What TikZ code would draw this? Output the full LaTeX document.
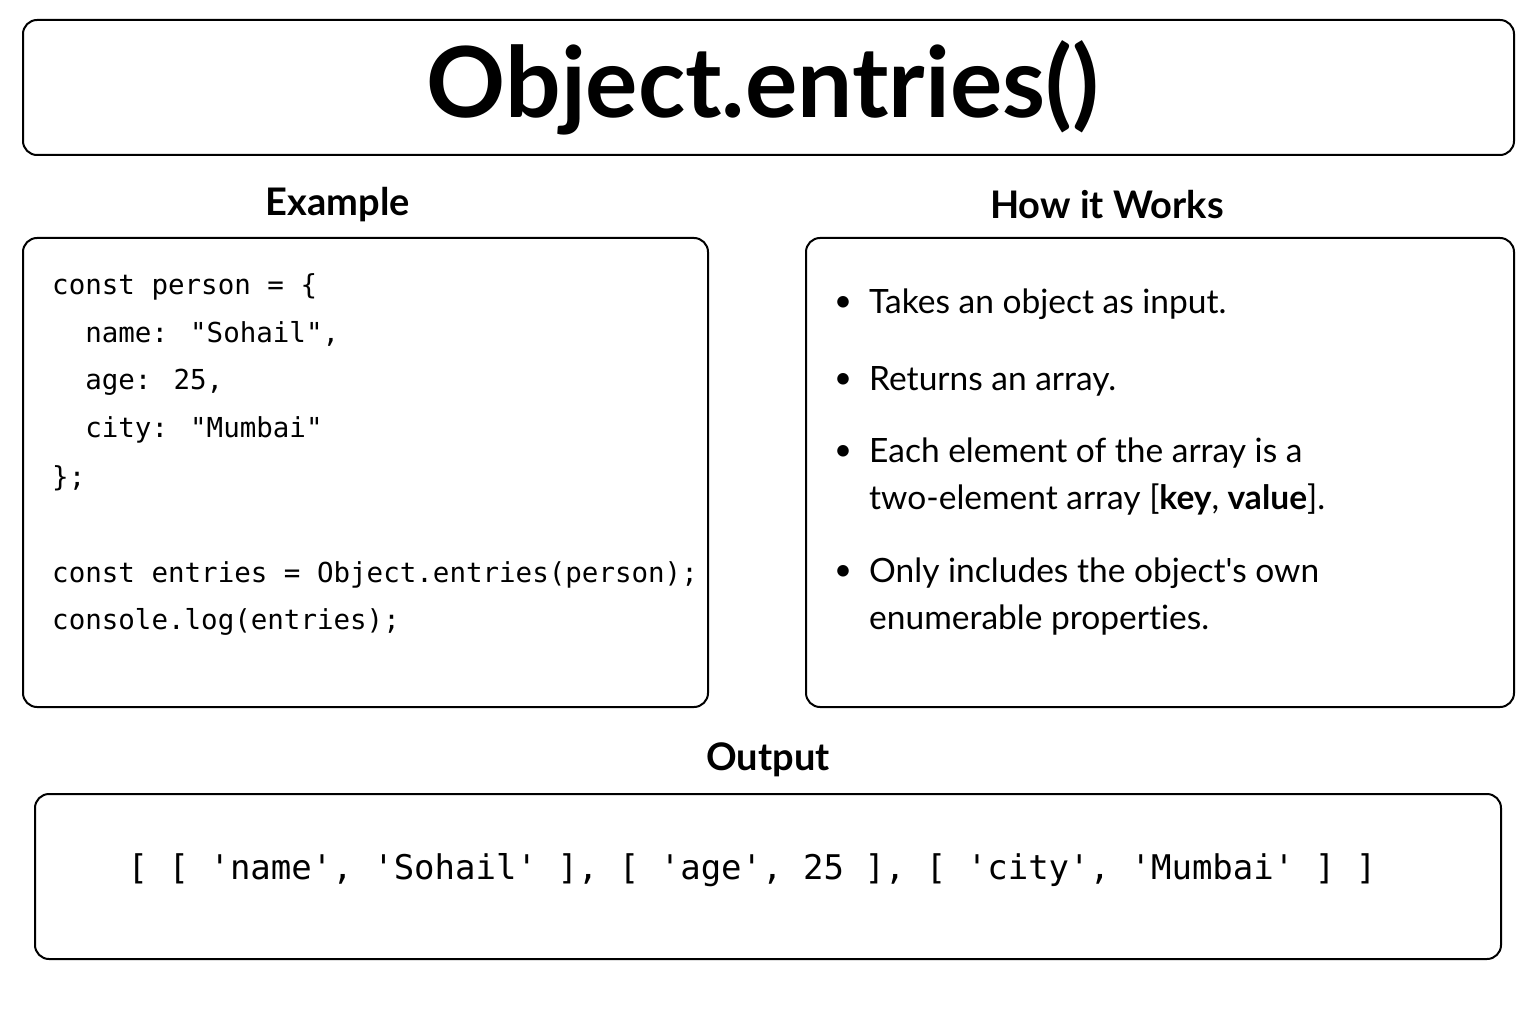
\documentclass[tikz,border=0pt]{standalone}
\usepackage{fontspec}
\setmainfont{Lato}[Ligatures={NoCommon}]
\newfontfamily\codefont{DejaVu Sans Mono}
\usetikzlibrary{positioning}
\begin{document}
\begin{tikzpicture}[x=1pt,y=-1pt,
    panel/.style={draw=black,line width=2pt,rounded corners=14pt},
    heading/.style={font=\fontsize{38}{44}\selectfont\bfseries},
    code/.style={anchor=west,inner sep=0pt,font=\codefont\fontsize{27.5}{32}\selectfont},
    point/.style={anchor=west,inner sep=0pt,font=\fontsize{33.5}{38}\selectfont},
    dot/.style={inner sep=0pt,font=\fontsize{31}{36}\selectfont}]
  \useasboundingbox (0,0) rectangle (1536,1024);
  % title
  \draw[panel] (23,20) rectangle (1514,155);
  \node[font=\fontsize{98}{104}\selectfont\bfseries] (title) at (763,88) {Object.entries()};
  % example
  \node[heading] (exhead) at (338,205) {Example};
  \draw[panel] (23,238) rectangle (708,707);
  \node[code] (c1) at (52,287) {const person = \{};
  \node[code] (c2) at (52,334) {\ \ name: "Sohail",};
  \node[code] (c3) at (52,382) {\ \ age: 25,};
  \node[code] (c4) at (52,430) {\ \ city: "Mumbai"};
  \node[code] (c5) at (52,478) {\};};
  \node[code] (c6) at (52,575) {const entries = Object.entries(person);};
  \node[code] (c7) at (52,622) {console.log(entries);};
  % how it works
  \node[heading] (howhead) at (1107,205) {How it Works};
  \draw[panel] (806,238) rectangle (1514,707);
  \foreach \y in {304,381,453,573}
    \node[dot] at (843,\y) {\textbullet};
  \node[point] (p1) at (869,304) {Takes an object as input.};
  \node[point] (p2) at (869,381) {Returns an array.};
  \node[point] (p3) at (869,453) {Each element of the array is a};
  \node[point] (p3b) at (869,500) {two-element array [\textbf{key}, \textbf{value}].};
  \node[point] (p4) at (869,573) {Only includes the object\textquotesingle s own};
  \node[point] (p4b) at (869,620) {enumerable properties.};
  % output
  \node[heading] (outhead) at (768,760) {Output};
  \draw[panel] (35,794) rectangle (1501,959);
  \node[inner sep=0pt,font=\codefont\fontsize{34}{40}\selectfont] (out) at (752,870)
    {[ [ 'name', 'Sohail' ], [ 'age', 25 ], [ 'city', 'Mumbai' ] ]};
\end{tikzpicture}
\end{document}
